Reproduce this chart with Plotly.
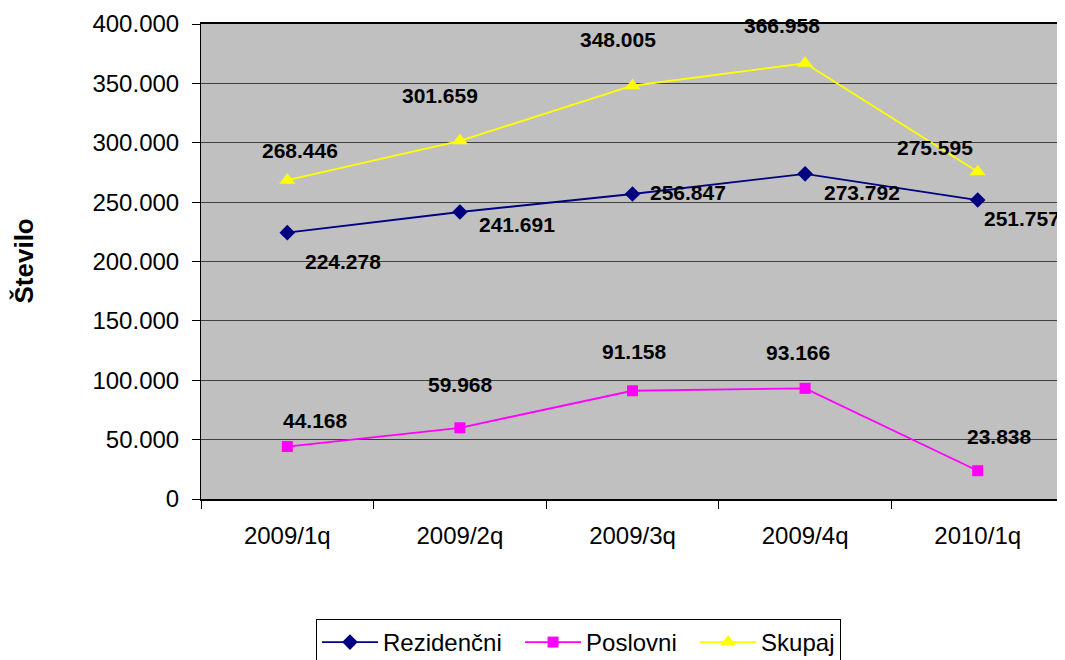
import plotly.graph_objects as go

categories = ["2009/1q", "2009/2q", "2009/3q", "2009/4q", "2010/1q"]
rezidencni = [224278, 241691, 256847, 273792, 251757]
poslovni = [44168, 59968, 91158, 93166, 23838]
skupaj = [268446, 301659, 348005, 366958, 275595]
y_ticks = [0, 50000, 100000, 150000, 200000, 250000, 300000, 350000, 400000]

# label offsets in pixels (dx, dy) per point
off_rez = [(56, -29), (57, -13), (55, 1), (57, -19), (44, -18)]
off_pos = [(28, 26), (1, 43), (2, 39), (-7, 36), (22, 34)]
off_sku = [(13, 30), (-20, 45), (-15, 46), (-23, 38), (-43, 24)]

FONT = "Liberation Sans, Arial, sans-serif"
NB = "\u00a0\u00a0"

def fmt(v):
    return f"{v:,}".replace(",", ".")

fig = go.Figure()
series = [
    ("Rezidenčni", NB, rezidencni, "#000080", "diamond", 12, off_rez),
    ("Poslovni", NB, poslovni, "#FF00FF", "square", 11, off_pos),
    ("Skupaj", "", skupaj, "#FFFF00", "triangle-up", 14, off_sku),
]
for name, pad, vals, col, sym, sz, offs in series:
    fig.add_trace(go.Scatter(
        x=categories, y=vals, name=name + pad, mode="lines+markers",
        line=dict(color=col, width=1.8),
        marker=dict(symbol=sym, size=sz, color=col),
    ))
    for c, v, (dx, dy) in zip(categories, vals, offs):
        fig.add_annotation(x=c, y=v, text=fmt(v), showarrow=False,
                           xshift=dx, yshift=dy,
                           font=dict(family=FONT, size=21, color="black", weight="bold"))

fig.add_annotation(xref="paper", yref="paper", x=0, y=0.5, xshift=-195,
                   text="<b>Število</b>", textangle=-90, showarrow=False,
                   font=dict(family=FONT, size=26, color="black"))

fig.update_layout(
    width=1057, height=652,
    margin=dict(l=193, r=1, t=16, b=161, autoexpand=False),
    paper_bgcolor="white", plot_bgcolor="#C0C0C0",
    separators=",.",
    font=dict(family=FONT, size=24, color="black"),
    showlegend=True,
    legend=dict(orientation="h", x=0.4374, xanchor="center", y=-0.2526, yanchor="top",
                bordercolor="black", borderwidth=1, bgcolor="white",
                font=dict(size=24), itemwidth=56),
)
fig.update_xaxes(
    type="category", tickson="boundaries", ticks="outside", ticklen=8,
    tickcolor="black", showline=True, linecolor="black", linewidth=2, mirror=True,
    showgrid=False, tickfont=dict(size=24), range=[-0.5, 4.5],
    ticklabelstandoff=14, automargin=False,
)
fig.update_yaxes(
    range=[0, 400000], tickvals=y_ticks, tickformat=",", ticks="outside",
    ticklen=8, tickcolor="black", showline=True, linecolor="black", linewidth=1,
    mirror=True, showgrid=True, gridcolor="#404040", gridwidth=1,
    tickfont=dict(size=24), zeroline=False, ticklabelstandoff=8, automargin=False,
)
fig.write_html("out.html")
